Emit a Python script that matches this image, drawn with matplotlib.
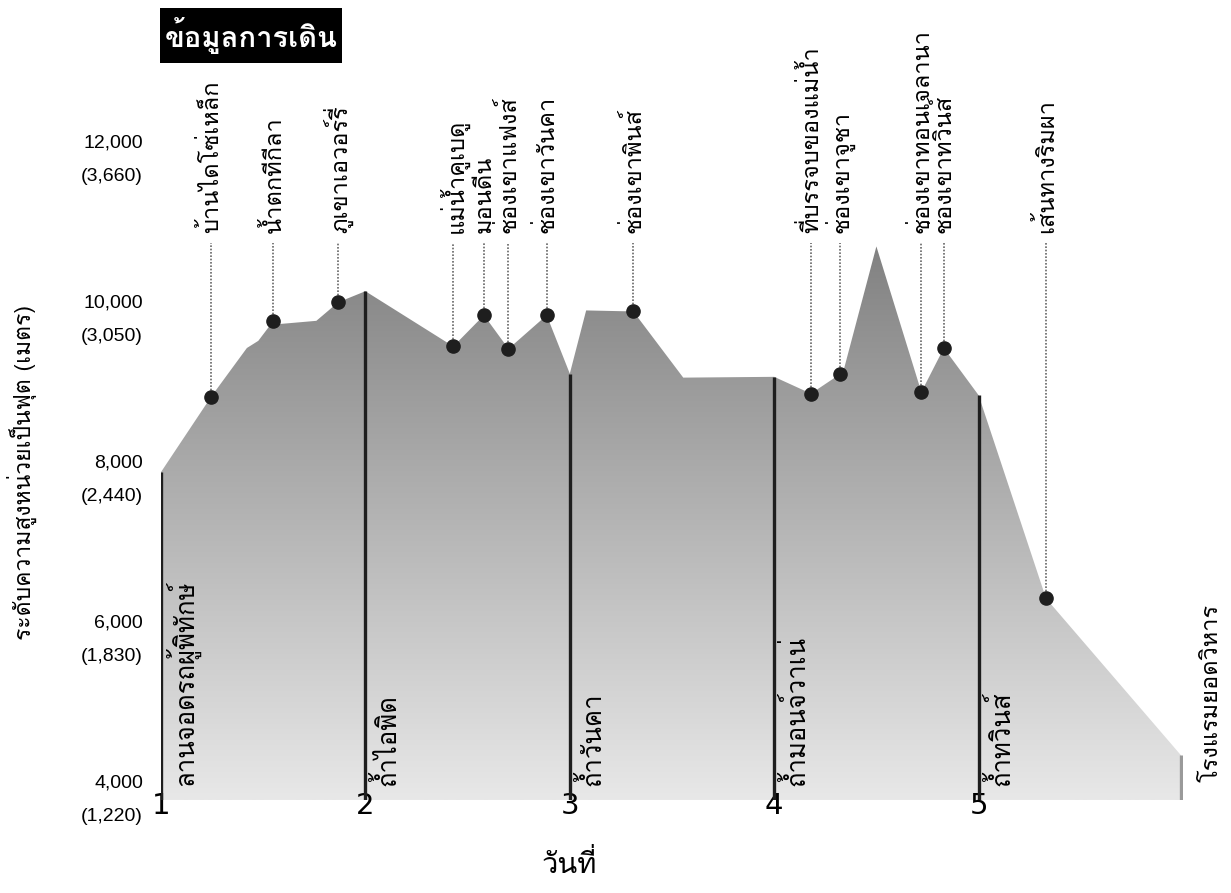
import numpy as np
import matplotlib
matplotlib.use("Agg")
from matplotlib import pyplot as plt
from matplotlib import font_manager
from matplotlib.ft2font import FT2Font
from matplotlib.colors import LinearSegmentedColormap
from matplotlib.patches import Rectangle


def thai_family():
    # first installed family that has Thai glyphs
    for f in font_manager.fontManager.ttflist:
        try:
            if 0x0E01 in FT2Font(f.fname).get_charmap():
                return f.name
        except Exception:
            pass
    return "DejaVu Sans"


THAI = thai_family()

# trail profile: day of hike vs elevation in feet
profile_day = [1.0, 1.245, 1.42, 1.476, 1.55, 1.58, 1.76, 1.82, 1.865, 2.0,
               2.43, 2.58, 2.70, 2.887, 3.0, 3.08, 3.26, 3.31, 3.555, 4.0,
               4.18, 4.32, 4.34, 4.50, 4.72, 4.83, 5.0, 5.33, 5.99]
profile_ft = [8100, 9040, 9650, 9740, 9990, 9950, 9990, 10120, 10220, 10360,
              9670, 10060, 9640, 10060, 9330, 10120, 10110, 10110, 9280, 9290,
              9080, 9320, 9375, 10920, 9100, 9650, 9060, 6520, 4560]

# named waypoints along the trail
waypoint_day = [1.245, 1.55, 1.865, 2.43, 2.58, 2.70, 2.887, 3.31,
                4.18, 4.32, 4.72, 4.83, 5.33]
waypoint_ft = [9040, 9990, 10220, 9670, 10060, 9640, 10060, 10110,
               9080, 9320, 9100, 9650, 6520]
waypoint_names = ["บ้านไดโซ่เหล็ก", "น้ำตกทีกีลา", "ภูเขาเอวอร์รี่", "แม่น้ำคูเบดู",
                  "มอนดีน", "ช่องเขาแฟงส์", "ช่องเขาวันคา", "ช่องเขาพินส์",
                  "ที่บรรจบของแม่น้ำ", "ช่องเขาจูชา", "ช่องเขาทอนเจลานา",
                  "ช่องเขาทวินส์", "เส้นทางริมผา"]

# overnight camps
camp_day = [1, 2, 3, 4, 5]
camp_names = ["ลานจอดรถผู้พิทักษ์", "ถ้ำไอพิด", "ถ้ำวันคา", "ถ้ำมอนจ์วาเน่", "ถ้ำทวินส์"]
end_day = 5.99
end_name = "โรงแรมยอดวิหาร"

ytick_ft = [4000, 6000, 8000, 10000, 12000]
ytick_m = [1220, 1830, 2440, 3050, 3660]

BASE = 4000
LABEL_FT = 11090
LEADER_TOP = 10960

fig = plt.figure(figsize=(12.31, 8.93), dpi=100)
ax = fig.add_axes([0.1308, 0.1041, 0.8302, 0.7167])
ax.set_xlim(1, 6)
ax.set_ylim(BASE, 12000)
for s in ax.spines.values():
    s.set_visible(False)

# gradient-filled mountain profile
poly_x = [profile_day[0]] + profile_day + [profile_day[-1]]
poly_y = [BASE] + profile_ft + [BASE]
poly = ax.fill(poly_x, poly_y, facecolor="none", edgecolor="none")[0]
cmap = LinearSegmentedColormap.from_list("shade", ["#e8e8e8", "#b4b4b4", "#808080"])
grad = np.linspace(0, 1, 256).reshape(-1, 1)
im = ax.imshow(grad, cmap=cmap, origin="lower", aspect="auto",
               extent=[1, 6, BASE, 11000], zorder=1)
im.set_clip_path(poly)

# camp separators
camp_top = np.interp(camp_day, profile_day, profile_ft)
ax.vlines(camp_day, BASE, camp_top, color="#1e1e1e", lw=2.4, zorder=3)
ax.vlines([end_day], BASE, [profile_ft[-1]], color="#9a9a9a", lw=2.4, zorder=3)

for d, name in zip(camp_day, camp_names):
    ax.text(d + 0.105, 4180, name, rotation=90, ha="center", va="bottom",
            fontsize=18.5, family=THAI, zorder=4)
ax.text(end_day + 0.15, 4230, end_name, rotation=90, ha="center", va="bottom",
        fontsize=17, family=THAI, clip_on=False)

# waypoints with leaders and names
ax.vlines(waypoint_day, waypoint_ft, LEADER_TOP, color="#666666", lw=1.2,
          linestyles=(0, (1, 1)), zorder=2)
ax.plot(waypoint_day, waypoint_ft, "o", color="#1e1e1e", ms=9.5, zorder=5)
for d, name in zip(waypoint_day, waypoint_names):
    ax.text(d, LABEL_FT, name, rotation=90, ha="center", va="bottom",
            fontsize=17, family=THAI, clip_on=False)

# axes ticks
ax.set_yticks(ytick_ft)
ax.set_yticklabels([f"{f:,}\n({m:,})" for f, m in zip(ytick_ft, ytick_m)],
                   fontsize=14, family="Liberation Sans", ha="right", va="center",
                   multialignment="right", linespacing=2.25)
ax.set_xticks(camp_day)
ax.set_xticklabels([str(d) for d in camp_day], fontsize=21,
                   family=["Liberation Sans Narrow", "DejaVu Sans"])
ax.tick_params(axis="y", length=0, pad=13)
ax.tick_params(axis="x", length=0, pad=-6)

ax.text(3, 3200, "วันที่", ha="center", va="center", fontsize=21, family=THAI)
fig.text(0.018, 0.4714, "ระดับความสูงหน่วยเป็นฟุต (เมตร)", rotation=90,
         ha="center", va="center", fontsize=16.5, family=THAI)

# title block
fig.patches.append(Rectangle((160 / 1231, 1 - 63 / 893), 182 / 1231, 55 / 893,
                             transform=fig.transFigure, fc="black", ec="none"))
fig.text(251 / 1231, 1 - 36 / 893, "ข้อมูลการเดิน", color="white", fontsize=21,
         fontweight="bold", family=THAI, ha="center", va="center")

fig.savefig("out.png", dpi=100, facecolor="white")
